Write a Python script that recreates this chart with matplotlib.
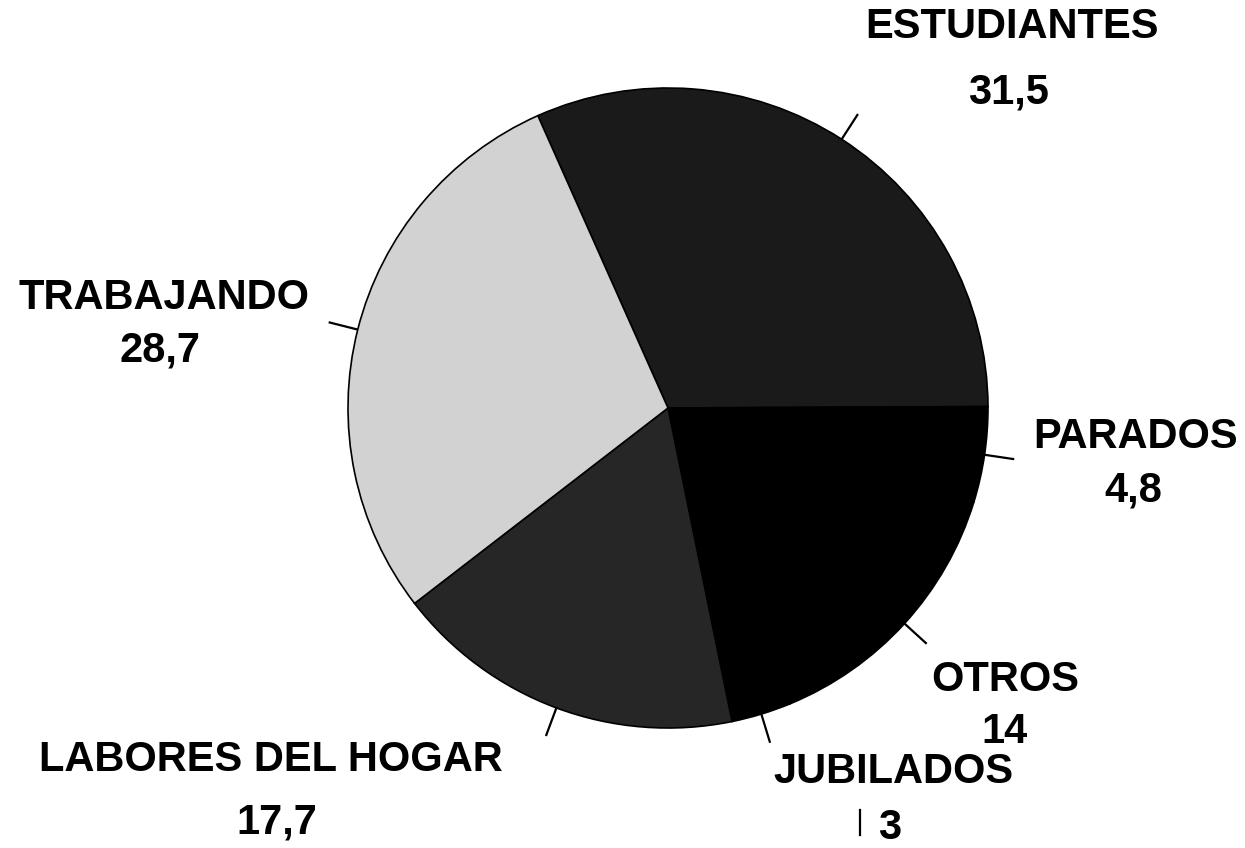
import numpy as np
import matplotlib
matplotlib.use("Agg")
import matplotlib.pyplot as plt

# ---- data ----
categories = ["ESTUDIANTES", "PARADOS", "OTROS", "JUBILADOS",
              "LABORES DEL HOGAR", "TRABAJANDO"]
values = [31.5, 4.8, 14, 3, 17.7, 28.7]
colors = ["#1a1a1a", "#000000", "#000000", "#000000", "#262626", "#d2d2d2"]

W, H = 1245, 848
fig = plt.figure(figsize=(W / 100, H / 100), dpi=100)
ax = fig.add_axes([0, 0, 1, 1])

cx, cy, R = 668, H - 408, 320
wedges, _ = ax.pie(values, colors=colors, startangle=114, counterclock=False,
                   center=(cx, cy), radius=R, frame=True,
                   wedgeprops=dict(edgecolor="black", linewidth=1.2))
ax.set_xlim(0, W)
ax.set_ylim(0, H)
ax.set_aspect("equal")
ax.axis("off")

# label positions (pixel centres, y measured from top): (name xy, value xy)
label_pos = [((1012, 27), (1008, 92)),
             ((1136, 437), (1133, 490)),
             ((1005, 680), (1005, 732)),
             ((893, 772), (890, 828)),
             ((271, 760), (277, 823)),
             ((164, 298), (160, 350))]

font = dict(family="Liberation Sans", fontsize=30, fontweight="bold",
            color="black", ha="center", va="center")

for w, name, v, (p1, p2) in zip(wedges, categories, values, label_pos):
    mid = np.deg2rad((w.theta1 + w.theta2) / 2)
    r0, r1 = R, R + 30
    ax.plot([cx + r0 * np.cos(mid), cx + r1 * np.cos(mid)],
            [cy + r0 * np.sin(mid), cy + r1 * np.sin(mid)],
            color="black", lw=1.6, solid_capstyle="butt")
    ax.text(p1[0], H - p1[1], name, **font)
    ax.text(p2[0], H - p2[1], f"{v:g}".replace(".", ","), **font)

# small tick beside the JUBILADOS value
ax.plot([860, 860], [H - 810, H - 835], color="black", lw=1.6)

fig.savefig("out.png", dpi=100, facecolor="white")
